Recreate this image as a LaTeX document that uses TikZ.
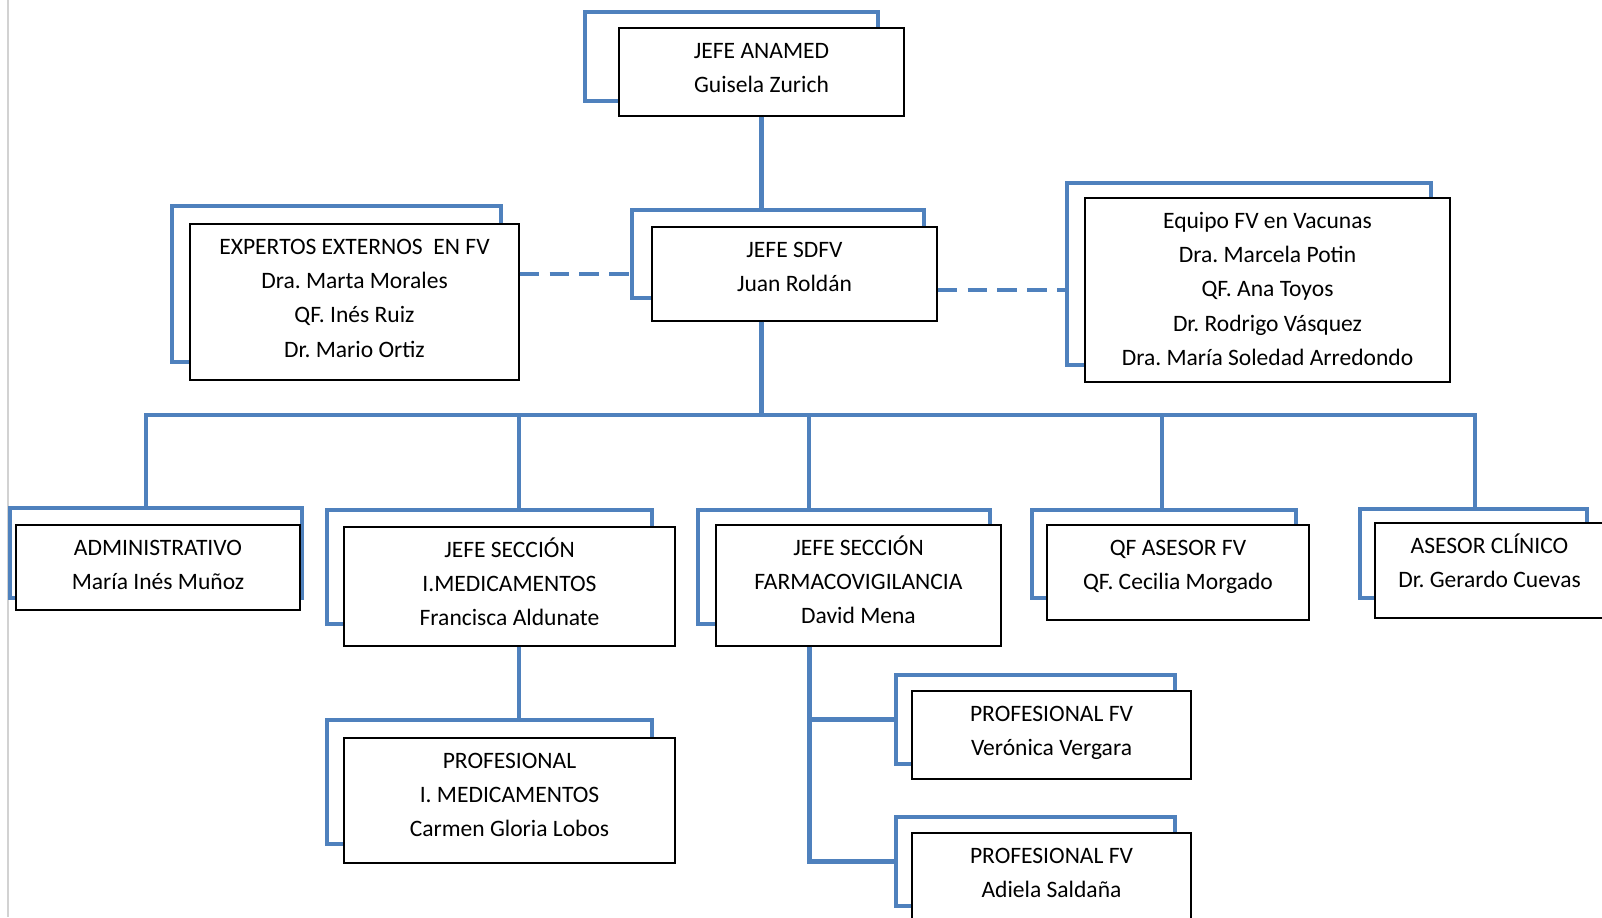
\documentclass[tikz,border=0pt]{standalone}
\usepackage{fontspec}
\setmainfont{Carlito}
\usetikzlibrary{fit}
\frenchspacing

\definecolor{orgblue}{RGB}{79,129,189}
\newcommand{\cardlines}[1]{\begin{tabular}[t]{@{}c@{}}#1\end{tabular}}

\tikzset{
  frame/.style={draw=orgblue, line width=2.6pt, inner sep=0pt},
  card/.style={draw=black, fill=white, line width=0.8pt, inner sep=0pt},
  cardtext/.style={anchor=base, yshift=-0.62cm, inner sep=0pt,
    font=\fontsize{13.4}{19.5}\selectfont},
  link/.style={draw=orgblue, line width=2.6pt},
  dashlink/.style={link, dash pattern=on 11pt off 6pt},
}

\begin{document}
\begin{tikzpicture}[x=0.02cm, y=-0.02cm]
    \useasboundingbox (0,0) rectangle (1602,917);
    \draw[gray!35, line width=0.6pt] (8,0) -- (8,917);

    % Jefaturas
    \node[frame, fit={(585,12) (878,101)}] (anamed-bg) {};
    \node[card, fit={(619,28) (904,116)}] (anamed) {};
    \node[cardtext] (anamed-txt) at (anamed.north) {\cardlines{JEFE ANAMED\\Guisela Zurich}};
    \node[frame, fit={(632,210) (924,298)}] (sdfv-bg) {};
    \node[card, fit={(652,227) (937,321)}] (sdfv) {};
    \node[cardtext] (sdfv-txt) at (sdfv.north) {\cardlines{JEFE SDFV\\Juan Roldán}};

    % Apoyo externo
    \node[frame, fit={(172,206) (501,362)}] (expertos-bg) {};
    \node[card, fit={(190,224) (519,380)}] (expertos) {};
    \node[cardtext] (expertos-txt) at (expertos.north) {\cardlines{EXPERTOS EXTERNOS~ EN FV\\Dra. Marta Morales\\QF. Inés Ruiz\\Dr. Mario Ortiz}};
    \node[frame, fit={(1067,183) (1431,365)}] (equipo-bg) {};
    \node[card, fit={(1085,198) (1450,382)}] (equipo) {};
    \node[cardtext] (equipo-txt) at (equipo.north) {\cardlines{Equipo FV en Vacunas\\Dra. Marcela Potin\\QF. Ana Toyos\\Dr. Rodrigo Vásquez\\Dra. María Soledad Arredondo}};

    % Segunda fila
    \node[frame, fit={(10,508) (302,598)}] (admin-bg) {};
    \node[card, fit={(16,525) (300,610)}] (admin) {};
    \node[cardtext] (admin-txt) at (admin.north) {\cardlines{ADMINISTRATIVO\\María Inés Muñoz}};
    \node[frame, fit={(327,510) (652,624)}] (imed-bg) {};
    \node[card, fit={(344,527) (675,646)}] (imed) {};
    \node[cardtext] (imed-txt) at (imed.north) {\cardlines{JEFE SECCIÓN\\I.MEDICAMENTOS\\Francisca Aldunate}};
    \node[frame, fit={(698,510) (990,624)}] (farmaco-bg) {};
    \node[card, fit={(716,525) (1001,646)}] (farmaco) {};
    \node[cardtext] (farmaco-txt) at (farmaco.north) {\cardlines{JEFE SECCIÓN\\FARMACOVIGILANCIA\\David Mena}};
    \node[frame, fit={(1032,510) (1296,598)}] (qf-bg) {};
    \node[card, fit={(1047,525) (1309,620)}] (qf) {};
    \node[cardtext] (qf-txt) at (qf.north) {\cardlines{QF ASESOR FV\\QF. Cecilia Morgado}};
    \node[frame, fit={(1360,509) (1587,598)}] (clinico-bg) {};
    \node[card, fit={(1375,523) (1604,618)}] (clinico) {};
    \node[cardtext] (clinico-txt) at (clinico.north) {\cardlines{ASESOR CLÍNICO\\Dr. Gerardo Cuevas}};

    % Profesionales
    \node[frame, fit={(327,720) (652,844)}] (profimed-bg) {};
    \node[card, fit={(344,738) (675,863)}] (profimed) {};
    \node[cardtext] (profimed-txt) at (profimed.north) {\cardlines{PROFESIONAL\\I. MEDICAMENTOS\\Carmen Gloria Lobos}};
    \node[frame, fit={(896,675) (1175,764)}] (veronica-bg) {};
    \node[card, fit={(912,691) (1191,779)}] (veronica) {};
    \node[cardtext] (veronica-txt) at (veronica.north) {\cardlines{PROFESIONAL FV\\Verónica Vergara}};
    \node[frame, fit={(896,817) (1175,906)}] (adiela-bg) {};
    \node[card, fit={(912,833) (1191,925)}] (adiela) {};
    \node[cardtext] (adiela-txt) at (adiela.north) {\cardlines{PROFESIONAL FV\\Adiela Saldaña}};

    % Lineas de mando
    \coordinate (b1) at (146,415);
    \coordinate (b2) at (519,415);
    \coordinate (b3) at (809,415);
    \coordinate (b4) at (1162,415);
    \coordinate (b5) at (1475,415);
    \draw[link] (anamed.south) -- (anamed.south |- sdfv-bg.north);
    \draw[link] (anamed.south |- sdfv.south) -- (anamed.south |- b1);
    \draw[link] (b1 |- admin-bg.north) -- (b1) -- (b5) -- (b5 |- clinico-bg.north);
    \draw[link] (b2) -- (b2 |- imed-bg.north);
    \draw[link] (b3) -- (b3 |- farmaco-bg.north);
    \draw[link] (b4) -- (b4 |- qf-bg.north);
    \draw[link] (b2 |- imed.south) -- (b2 |- profimed-bg.north);
    \draw[link] (farmaco.south west) ++(94,0) coordinate (trunk) |- (adiela-bg.west);
    \draw[link] (trunk |- veronica-bg.west) -- (veronica-bg.west);

    % Asesoria
    \draw[dashlink] (expertos.east |- sdfv.west) -- (sdfv-bg.west |- sdfv.west);
    \draw[dashlink] (sdfv.east |- equipo.west) -- (equipo-bg.west |- equipo.west);
\end{tikzpicture}
\end{document}
